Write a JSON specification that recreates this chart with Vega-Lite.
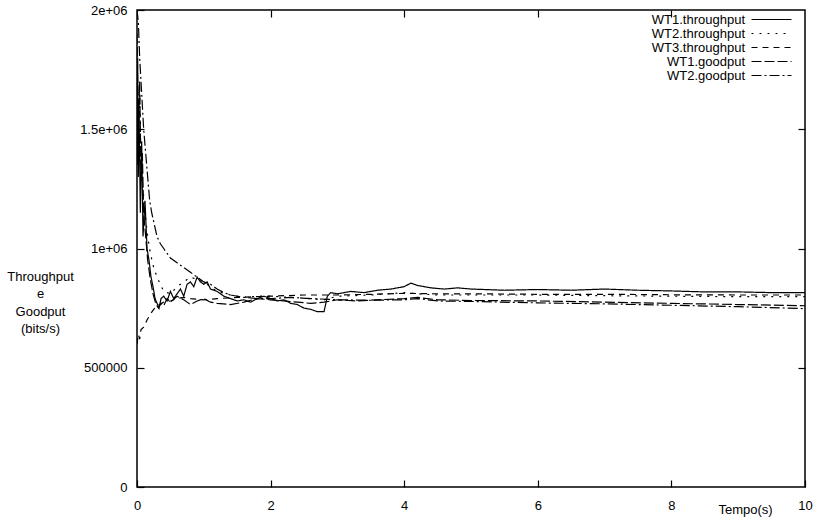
{
  "$schema": "https://vega.github.io/schema/vega-lite/v6.json",
  "width": 668,
  "height": 477,
  "autosize": {"type": "none"},
  "padding": {"left": 137, "top": 10, "right": 12, "bottom": 30},
  "background": "white",
  "config": {
    "view": {"stroke": "black", "strokeWidth": 1.5},
    "font": "Liberation Sans",
    "axis": {"grid": false, "domain": false, "labelFont": "Liberation Sans", "labelFontSize": 13, "labelColor": "black", "tickColor": "black", "titleFont": "Liberation Sans", "titleFontWeight": "normal", "titleColor": "black", "titleFontSize": 13}
  },
  "data": {"values": [
    {"s":"WT1.throughput","t":0,"v":1350000},{"s":"WT1.throughput","t":0.01,"v":1800000},{"s":"WT1.throughput","t":0.02,"v":1300000},{"s":"WT1.throughput","t":0.03,"v":1600000},{"s":"WT1.throughput","t":0.05,"v":1150000},{"s":"WT1.throughput","t":0.07,"v":1450000},{"s":"WT1.throughput","t":0.09,"v":1050000},{"s":"WT1.throughput","t":0.12,"v":1200000},{"s":"WT1.throughput","t":0.15,"v":1000000},{"s":"WT1.throughput","t":0.18,"v":950000},{"s":"WT1.throughput","t":0.21,"v":880000},{"s":"WT1.throughput","t":0.24,"v":840000},{"s":"WT1.throughput","t":0.27,"v":790000},{"s":"WT1.throughput","t":0.3,"v":770000},{"s":"WT1.throughput","t":0.33,"v":750000},{"s":"WT1.throughput","t":0.36,"v":790000},{"s":"WT1.throughput","t":0.4,"v":800000},{"s":"WT1.throughput","t":0.45,"v":780000},{"s":"WT1.throughput","t":0.5,"v":820000},{"s":"WT1.throughput","t":0.55,"v":790000},{"s":"WT1.throughput","t":0.6,"v":810000},{"s":"WT1.throughput","t":0.65,"v":830000},{"s":"WT1.throughput","t":0.7,"v":800000},{"s":"WT1.throughput","t":0.75,"v":850000},{"s":"WT1.throughput","t":0.8,"v":860000},{"s":"WT1.throughput","t":0.85,"v":840000},{"s":"WT1.throughput","t":0.9,"v":880000},{"s":"WT1.throughput","t":0.95,"v":860000},{"s":"WT1.throughput","t":1.0,"v":850000},{"s":"WT1.throughput","t":1.05,"v":860000},{"s":"WT1.throughput","t":1.1,"v":830000},{"s":"WT1.throughput","t":1.2,"v":820000},{"s":"WT1.throughput","t":1.3,"v":800000},{"s":"WT1.throughput","t":1.4,"v":790000},{"s":"WT1.throughput","t":1.5,"v":780000},{"s":"WT1.throughput","t":1.6,"v":785000},{"s":"WT1.throughput","t":1.7,"v":775000},{"s":"WT1.throughput","t":1.8,"v":790000},{"s":"WT1.throughput","t":1.9,"v":800000},{"s":"WT1.throughput","t":2.0,"v":790000},{"s":"WT1.throughput","t":2.1,"v":780000},{"s":"WT1.throughput","t":2.2,"v":785000},{"s":"WT1.throughput","t":2.3,"v":770000},{"s":"WT1.throughput","t":2.4,"v":765000},{"s":"WT1.throughput","t":2.5,"v":750000},{"s":"WT1.throughput","t":2.6,"v":745000},{"s":"WT1.throughput","t":2.7,"v":735000},{"s":"WT1.throughput","t":2.8,"v":735000},{"s":"WT1.throughput","t":2.85,"v":800000},{"s":"WT1.throughput","t":2.9,"v":815000},{"s":"WT1.throughput","t":3.0,"v":810000},{"s":"WT1.throughput","t":3.2,"v":820000},{"s":"WT1.throughput","t":3.4,"v":815000},{"s":"WT1.throughput","t":3.6,"v":825000},{"s":"WT1.throughput","t":3.8,"v":830000},{"s":"WT1.throughput","t":4.0,"v":840000},{"s":"WT1.throughput","t":4.1,"v":855000},{"s":"WT1.throughput","t":4.2,"v":845000},{"s":"WT1.throughput","t":4.4,"v":835000},{"s":"WT1.throughput","t":4.6,"v":830000},{"s":"WT1.throughput","t":4.8,"v":835000},{"s":"WT1.throughput","t":5.0,"v":830000},{"s":"WT1.throughput","t":5.5,"v":825000},{"s":"WT1.throughput","t":6.0,"v":828000},{"s":"WT1.throughput","t":6.5,"v":825000},{"s":"WT1.throughput","t":7.0,"v":830000},{"s":"WT1.throughput","t":7.5,"v":825000},{"s":"WT1.throughput","t":8.0,"v":822000},{"s":"WT1.throughput","t":8.5,"v":818000},{"s":"WT1.throughput","t":9.0,"v":818000},{"s":"WT1.throughput","t":9.5,"v":815000},{"s":"WT1.throughput","t":10,"v":815000},
    {"s":"WT2.throughput","t":0,"v":1700000},{"s":"WT2.throughput","t":0.02,"v":1500000},{"s":"WT2.throughput","t":0.04,"v":1650000},{"s":"WT2.throughput","t":0.06,"v":1350000},{"s":"WT2.throughput","t":0.09,"v":1250000},{"s":"WT2.throughput","t":0.12,"v":1150000},{"s":"WT2.throughput","t":0.16,"v":1050000},{"s":"WT2.throughput","t":0.2,"v":980000},{"s":"WT2.throughput","t":0.25,"v":920000},{"s":"WT2.throughput","t":0.3,"v":880000},{"s":"WT2.throughput","t":0.35,"v":850000},{"s":"WT2.throughput","t":0.4,"v":820000},{"s":"WT2.throughput","t":0.5,"v":810000},{"s":"WT2.throughput","t":0.6,"v":840000},{"s":"WT2.throughput","t":0.7,"v":860000},{"s":"WT2.throughput","t":0.8,"v":880000},{"s":"WT2.throughput","t":0.9,"v":870000},{"s":"WT2.throughput","t":1.0,"v":860000},{"s":"WT2.throughput","t":1.1,"v":840000},{"s":"WT2.throughput","t":1.2,"v":820000},{"s":"WT2.throughput","t":1.4,"v":805000},{"s":"WT2.throughput","t":1.6,"v":795000},{"s":"WT2.throughput","t":1.8,"v":800000},{"s":"WT2.throughput","t":2.0,"v":800000},{"s":"WT2.throughput","t":2.3,"v":795000},{"s":"WT2.throughput","t":2.6,"v":790000},{"s":"WT2.throughput","t":2.8,"v":785000},{"s":"WT2.throughput","t":3.0,"v":800000},{"s":"WT2.throughput","t":3.5,"v":805000},{"s":"WT2.throughput","t":4.0,"v":815000},{"s":"WT2.throughput","t":4.2,"v":810000},{"s":"WT2.throughput","t":4.5,"v":805000},{"s":"WT2.throughput","t":5,"v":805000},{"s":"WT2.throughput","t":6,"v":805000},{"s":"WT2.throughput","t":7,"v":802000},{"s":"WT2.throughput","t":8,"v":800000},{"s":"WT2.throughput","t":9,"v":798000},{"s":"WT2.throughput","t":10,"v":798000},
    {"s":"WT3.throughput","t":0,"v":600000},{"s":"WT3.throughput","t":0.02,"v":640000},{"s":"WT3.throughput","t":0.04,"v":620000},{"s":"WT3.throughput","t":0.06,"v":660000},{"s":"WT3.throughput","t":0.1,"v":670000},{"s":"WT3.throughput","t":0.15,"v":700000},{"s":"WT3.throughput","t":0.2,"v":725000},{"s":"WT3.throughput","t":0.25,"v":745000},{"s":"WT3.throughput","t":0.3,"v":760000},{"s":"WT3.throughput","t":0.4,"v":775000},{"s":"WT3.throughput","t":0.5,"v":780000},{"s":"WT3.throughput","t":0.6,"v":790000},{"s":"WT3.throughput","t":0.7,"v":795000},{"s":"WT3.throughput","t":0.8,"v":790000},{"s":"WT3.throughput","t":1.0,"v":785000},{"s":"WT3.throughput","t":1.2,"v":790000},{"s":"WT3.throughput","t":1.5,"v":795000},{"s":"WT3.throughput","t":2.0,"v":800000},{"s":"WT3.throughput","t":2.5,"v":805000},{"s":"WT3.throughput","t":3.0,"v":805000},{"s":"WT3.throughput","t":3.5,"v":808000},{"s":"WT3.throughput","t":4.0,"v":812000},{"s":"WT3.throughput","t":4.5,"v":810000},{"s":"WT3.throughput","t":5,"v":810000},{"s":"WT3.throughput","t":6,"v":808000},{"s":"WT3.throughput","t":7,"v":808000},{"s":"WT3.throughput","t":8,"v":806000},{"s":"WT3.throughput","t":9,"v":805000},{"s":"WT3.throughput","t":10,"v":805000},
    {"s":"WT1.goodput","t":0,"v":1900000},{"s":"WT1.goodput","t":0.02,"v":1500000},{"s":"WT1.goodput","t":0.04,"v":1700000},{"s":"WT1.goodput","t":0.06,"v":1300000},{"s":"WT1.goodput","t":0.08,"v":1400000},{"s":"WT1.goodput","t":0.1,"v":1150000},{"s":"WT1.goodput","t":0.13,"v":1050000},{"s":"WT1.goodput","t":0.16,"v":950000},{"s":"WT1.goodput","t":0.2,"v":870000},{"s":"WT1.goodput","t":0.24,"v":810000},{"s":"WT1.goodput","t":0.28,"v":770000},{"s":"WT1.goodput","t":0.32,"v":750000},{"s":"WT1.goodput","t":0.36,"v":770000},{"s":"WT1.goodput","t":0.4,"v":760000},{"s":"WT1.goodput","t":0.45,"v":790000},{"s":"WT1.goodput","t":0.5,"v":775000},{"s":"WT1.goodput","t":0.6,"v":800000},{"s":"WT1.goodput","t":0.7,"v":785000},{"s":"WT1.goodput","t":0.8,"v":765000},{"s":"WT1.goodput","t":0.9,"v":780000},{"s":"WT1.goodput","t":1.0,"v":790000},{"s":"WT1.goodput","t":1.1,"v":775000},{"s":"WT1.goodput","t":1.2,"v":770000},{"s":"WT1.goodput","t":1.4,"v":765000},{"s":"WT1.goodput","t":1.6,"v":775000},{"s":"WT1.goodput","t":1.8,"v":790000},{"s":"WT1.goodput","t":2.0,"v":785000},{"s":"WT1.goodput","t":2.2,"v":780000},{"s":"WT1.goodput","t":2.4,"v":775000},{"s":"WT1.goodput","t":2.6,"v":770000},{"s":"WT1.goodput","t":2.8,"v":775000},{"s":"WT1.goodput","t":3.0,"v":785000},{"s":"WT1.goodput","t":3.3,"v":780000},{"s":"WT1.goodput","t":3.6,"v":785000},{"s":"WT1.goodput","t":4.0,"v":790000},{"s":"WT1.goodput","t":4.2,"v":795000},{"s":"WT1.goodput","t":4.5,"v":785000},{"s":"WT1.goodput","t":5,"v":782000},{"s":"WT1.goodput","t":6,"v":780000},{"s":"WT1.goodput","t":7,"v":775000},{"s":"WT1.goodput","t":8,"v":770000},{"s":"WT1.goodput","t":9,"v":765000},{"s":"WT1.goodput","t":10,"v":760000},
    {"s":"WT2.goodput","t":0,"v":2000000},{"s":"WT2.goodput","t":0.02,"v":1950000},{"s":"WT2.goodput","t":0.04,"v":1800000},{"s":"WT2.goodput","t":0.06,"v":1700000},{"s":"WT2.goodput","t":0.08,"v":1600000},{"s":"WT2.goodput","t":0.1,"v":1500000},{"s":"WT2.goodput","t":0.13,"v":1400000},{"s":"WT2.goodput","t":0.16,"v":1300000},{"s":"WT2.goodput","t":0.19,"v":1200000},{"s":"WT2.goodput","t":0.22,"v":1150000},{"s":"WT2.goodput","t":0.26,"v":1100000},{"s":"WT2.goodput","t":0.3,"v":1050000},{"s":"WT2.goodput","t":0.35,"v":1020000},{"s":"WT2.goodput","t":0.4,"v":1000000},{"s":"WT2.goodput","t":0.5,"v":960000},{"s":"WT2.goodput","t":0.6,"v":940000},{"s":"WT2.goodput","t":0.7,"v":920000},{"s":"WT2.goodput","t":0.8,"v":900000},{"s":"WT2.goodput","t":0.9,"v":880000},{"s":"WT2.goodput","t":1.0,"v":860000},{"s":"WT2.goodput","t":1.1,"v":850000},{"s":"WT2.goodput","t":1.2,"v":830000},{"s":"WT2.goodput","t":1.3,"v":815000},{"s":"WT2.goodput","t":1.4,"v":805000},{"s":"WT2.goodput","t":1.6,"v":795000},{"s":"WT2.goodput","t":1.8,"v":790000},{"s":"WT2.goodput","t":2.0,"v":790000},{"s":"WT2.goodput","t":2.3,"v":795000},{"s":"WT2.goodput","t":2.6,"v":790000},{"s":"WT2.goodput","t":3.0,"v":785000},{"s":"WT2.goodput","t":3.5,"v":783000},{"s":"WT2.goodput","t":4.0,"v":785000},{"s":"WT2.goodput","t":4.2,"v":790000},{"s":"WT2.goodput","t":4.5,"v":780000},{"s":"WT2.goodput","t":5,"v":778000},{"s":"WT2.goodput","t":6,"v":772000},{"s":"WT2.goodput","t":7,"v":768000},{"s":"WT2.goodput","t":8,"v":762000},{"s":"WT2.goodput","t":9,"v":756000},{"s":"WT2.goodput","t":10,"v":748000}
  ]},
  "resolve": {"axis": {"x": "independent", "y": "independent"}},
  "layer": [
    {
      "mark": {"type": "line", "color": "black", "strokeWidth": 1.2, "clip": true},
      "encoding": {
        "x": {"field": "t", "type": "quantitative", "scale": {"domain": [0, 10], "nice": false},
          "axis": {"values": [0, 2, 4, 6, 8, 10], "tickSize": -7, "tickWidth": 1.2, "labelPadding": 19, "labelFlush": false,
            "title": "Tempo(s)", "titleX": 608, "titleY": 22, "titleBaseline": "middle", "titleAnchor": null, "titleAlign": "center"}},
        "y": {"field": "v", "type": "quantitative", "scale": {"domain": [0, 2000000], "nice": false, "zero": true},
          "axis": {"values": [0, 500000, 1000000, 1500000, 2000000], "tickSize": -7, "tickWidth": 1.2, "labelPadding": 17,
            "labelExpr": "datum.value == 0 ? '0' : datum.value == 500000 ? '500000' : datum.value == 1000000 ? '1e+06' : datum.value == 1500000 ? '1.5e+06' : '2e+06'",
            "title": ["Throughput", "e", "Goodput", "(bits/s)"], "titleAngle": 0, "titleAlign": "center", "titleBaseline": "top",
            "titleX": -97, "titleY": 260, "titleLineHeight": 17.5}},
        "strokeDash": {"field": "s", "type": "nominal",
          "scale": {"domain": ["WT1.throughput", "WT2.throughput", "WT3.throughput", "WT1.goodput", "WT2.goodput"],
            "range": [[1, 0], [2, 6], [6, 5], [10, 3], [10, 3, 2, 3]]},
          "legend": {"title": null, "orient": "none", "legendX": 628, "legendY": 3, "padding": 0,
            "symbolType": "M-5,0H5", "symbolSize": 64,
            "symbolStrokeColor": "black", "symbolStrokeWidth": 1.2, "labelAlign": "right", "labelOffset": -33,
            "labelFontSize": 13, "labelFont": "Liberation Sans", "labelColor": "black", "rowPadding": 0, "labelLimit": 200}}
      }
    },
    {
      "mark": {"type": "line", "strokeOpacity": 0, "color": "black"},
      "encoding": {
        "detail": {"field": "s", "type": "nominal"},
        "x": {"field": "t", "type": "quantitative", "scale": {"domain": [0, 10], "nice": false},
          "axis": {"orient": "top", "values": [2, 4, 6, 8], "tickSize": -7, "tickWidth": 1.2, "labels": false, "title": null}},
        "y": {"field": "v", "type": "quantitative", "scale": {"domain": [0, 2000000], "nice": false},
          "axis": {"orient": "right", "values": [500000, 1000000, 1500000], "tickSize": -7, "tickWidth": 1.2, "labels": false, "title": null}}
      }
    }
  ]
}
